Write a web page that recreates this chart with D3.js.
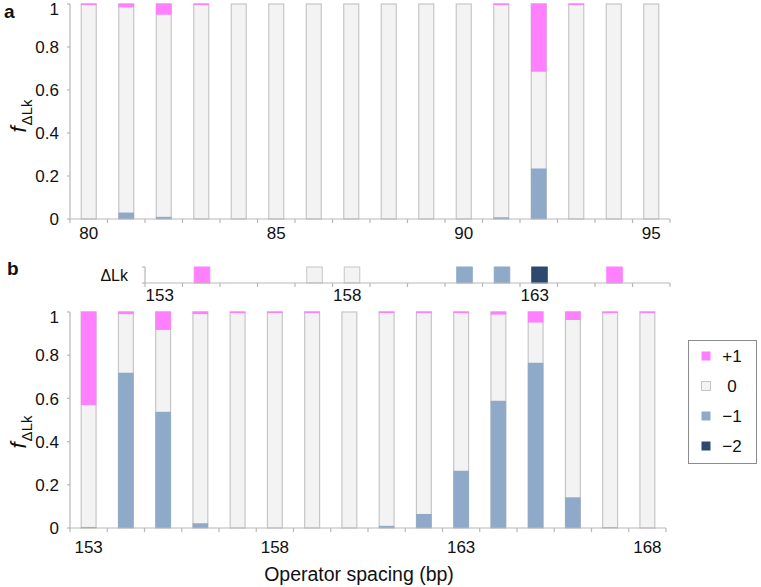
<!DOCTYPE html>
<html><head><meta charset="utf-8">
<script src="https://cdn.jsdelivr.net/npm/d3@7"></script>
<style>
body{margin:0;background:#fff;}
text{font-family:"Liberation Sans",Arial,Helvetica,sans-serif;fill:#111;}
</style></head>
<body>
<svg id="chart" width="761" height="587"></svg>
<script>
// ---- data ----
const spacingA = [80,81,82,83,84,85,86,87,88,89,90,91,92,93,94,95];
const plusA    = [0.005,0.016,0.05,0.005,0,0,0,0,0,0,0,0.005,0.315,0.005,0,0];
const minusA   = [0,0.03,0.01,0,0,0,0,0,0,0,0,0.008,0.235,0,0,0];
const labelsA  = [80,85,90,95];

const spacingStrip = [153,154,155,156,157,158,159,160,161,162,163,164,165,166];
const dlkStrip     = [null,1,null,null,0,0,null,null,-1,-1,-2,null,1,null];
const labelsStrip  = [153,158,163];

const spacingB = [153,154,155,156,157,158,159,160,161,162,163,164,165,166,167,168];
const plusB    = [0.431,0.01,0.083,0.01,0.005,0.005,0.005,0,0.005,0.005,0.005,0.012,0.049,0.037,0.005,0.005];
const minusB   = [0.005,0.719,0.538,0.022,0,0,0,0,0.01,0.065,0.265,0.589,0.765,0.142,0.003,0];
const labelsB  = [153,158,163,168];

const yTicks = [0,0.2,0.4,0.6,0.8,1];
const legendKeys   = [1,0,-1,-2];
const legendLabels = ["+1","0","\u22121","\u22122"];

// ---- styles ----
const colors = {"1":"#ff80ff","0":"#f3f3f3","-1":"#8fa9c8","-2":"#2d4a6e"};
const barStroke = "#c6c6c6";
const axisColor = "#b8b8b8";

const svg = d3.select("#chart");

function bandScale(domain, r0, r1){
  return d3.scaleBand().domain(domain).range([r0,r1]).paddingInner(0.6).paddingOuter(0.3);
}

function drawXAxis(g, x, yPix, labels, labelY, fontSize, dx){
  const half = x.step()*x.paddingInner()/2;
  const dom = x.domain();
  const r = x.range();
  g.append("line").attr("x1",r[0]).attr("x2",r[1]).attr("y1",yPix).attr("y2",yPix)
    .attr("stroke",axisColor).attr("stroke-width",1.2);
  const bounds = dom.map(d=>x(d)-half).concat([x(dom[dom.length-1])+x.bandwidth()+half]);
  g.selectAll(null).data(bounds).enter().append("line")
    .attr("x1",d=>d).attr("x2",d=>d).attr("y1",yPix).attr("y2",yPix+4)
    .attr("stroke",axisColor).attr("stroke-width",1.2);
  g.selectAll(null).data(labels).enter().append("text")
    .attr("x",d=>x(d)+x.bandwidth()/2).attr("y",labelY).attr("dx",dx||0)
    .attr("text-anchor","middle").attr("font-size",fontSize).text(d=>d);
}

function drawYAxis(g, y, xPix){
  const r = y.range();
  g.append("line").attr("x1",xPix).attr("x2",xPix).attr("y1",r[0]).attr("y2",r[1])
    .attr("stroke",axisColor).attr("stroke-width",1.2);
  g.selectAll(null).data(yTicks).enter().append("line")
    .attr("x1",xPix-3).attr("x2",xPix).attr("y1",d=>y(d)).attr("y2",d=>y(d))
    .attr("stroke",axisColor).attr("stroke-width",1.2);
  g.selectAll(null).data(yTicks).enter().append("text")
    .attr("x",xPix-11).attr("y",d=>y(d) + (d===1?5:0)).attr("dy","0.36em")
    .attr("text-anchor","end").attr("font-size",17).text(d=>d3.format("~g")(d));
}

function drawBars(g, x, y, cats, plus, minus){
  const data = cats.map((c,i)=>({c, p:plus[i], m:minus[i]}));
  g.selectAll(null).data(data).enter().append("rect")
    .attr("x",d=>x(d.c)).attr("width",x.bandwidth())
    .attr("y",y(1)).attr("height",y(0)-y(1))
    .attr("fill",colors["0"]).attr("stroke",barStroke).attr("stroke-width",1.2);
  g.selectAll(null).data(data.filter(d=>d.m>0)).enter().append("rect")
    .attr("x",d=>x(d.c)-0.3).attr("width",x.bandwidth()+0.6)
    .attr("y",d=>y(d.m)).attr("height",d=>y(0)-y(d.m))
    .attr("fill",colors["-1"]);
  g.selectAll(null).data(data.filter(d=>d.p>0)).enter().append("rect")
    .attr("x",d=>x(d.c)-0.3).attr("width",x.bandwidth()+0.6)
    .attr("y",y(1)-0.5).attr("height",d=>Math.max(1.5,y(1-d.p)-y(1)+0.5))
    .attr("fill",colors["1"]);
}

function yLabel(g, cx, cy){
  const t = g.append("text").attr("transform",`translate(${cx},${cy}) rotate(-90)`)
    .attr("text-anchor","middle");
  t.append("tspan").attr("font-style","italic").attr("font-size",22).text("f");
  t.append("tspan").attr("font-size",15).attr("dy",6).attr("dx",1).text("\u0394Lk");
}

// ---- panel a ----
const gA = svg.append("g");
const xA = bandScale(spacingA, 70, 670);
const yA = d3.scaleLinear().domain([0,1]).range([219,4]);
drawBars(gA, xA, yA, spacingA, plusA, minusA);
drawYAxis(gA, yA, 70);
drawXAxis(gA, xA, yA(0), labelsA, 239, 17, 0);
yLabel(gA, 26, 116);
gA.append("text").attr("x",4).attr("y",18).attr("font-size",19).attr("font-weight","bold").text("a");

// ---- panel b strip ----
const gS = svg.append("g");
const xS = bandScale(spacingStrip, 145, 670);
const yS = d3.scaleLinear().domain([0,1]).range([283,267]);
const stripData = spacingStrip.map((c,i)=>({c, v:dlkStrip[i]})).filter(d=>d.v!==null);
gS.selectAll(null).data(stripData).enter().append("rect")
  .attr("x",d=>xS(d.c)+0.5).attr("width",xS.bandwidth()+0.5)
  .attr("y",yS(1)).attr("height",yS(0)-yS(1))
  .attr("fill",d=>colors[String(d.v)])
  .attr("stroke",d=>d.v===0?barStroke:colors[String(d.v)]).attr("stroke-width",1);
gS.append("line").attr("x1",145).attr("x2",145).attr("y1",yS(1)).attr("y2",yS(0))
  .attr("stroke",axisColor).attr("stroke-width",1.2);
gS.selectAll(null).data([0,1]).enter().append("line")
  .attr("x1",142).attr("x2",145).attr("y1",d=>yS(d)).attr("y2",d=>yS(d))
  .attr("stroke",axisColor).attr("stroke-width",1.2);
drawXAxis(gS, xS, yS(0), labelsStrip, 301, 17, -4);
gS.append("text").attr("x",128).attr("y",yS(0.5)).attr("dy","0.36em")
  .attr("text-anchor","end").attr("font-size",16).text("\u0394Lk");
gS.append("text").attr("x",7).attr("y",275).attr("font-size",19).attr("font-weight","bold").text("b");

// ---- panel b main ----
const gB = svg.append("g");
const xB = bandScale(spacingB, 70, 666);
const yB = d3.scaleLinear().domain([0,1]).range([528,312]);
drawBars(gB, xB, yB, spacingB, plusB, minusB);
drawYAxis(gB, yB, 70);
drawXAxis(gB, xB, yB(0), labelsB, 553, 17, 0);
yLabel(gB, 26, 432);
gB.append("text").attr("x",359).attr("y",581).attr("text-anchor","middle")
  .attr("font-size",19.5).text("Operator spacing (bp)");

// ---- legend ----
const gL = svg.append("g");
gL.append("rect").attr("x",688.5).attr("y",340.5).attr("width",68).attr("height",123)
  .attr("fill","#fff").attr("stroke","#8c8c8c").attr("stroke-width",1);
const ly = d3.scalePoint().domain(legendKeys).range([356,446]);
gL.selectAll(null).data(legendKeys).enter().append("rect")
  .attr("x",701.5).attr("y",d=>ly(d)-4.5).attr("width",9).attr("height",9)
  .attr("fill",d=>colors[String(d)]).attr("stroke",d=>d===0?barStroke:"none");
gL.selectAll(null).data(legendKeys).enter().append("text")
  .attr("x",732).attr("y",d=>ly(d)).attr("dy","0.36em").attr("text-anchor","middle")
  .attr("font-size",17).text((d,i)=>legendLabels[i]);
</script>
</body></html>
